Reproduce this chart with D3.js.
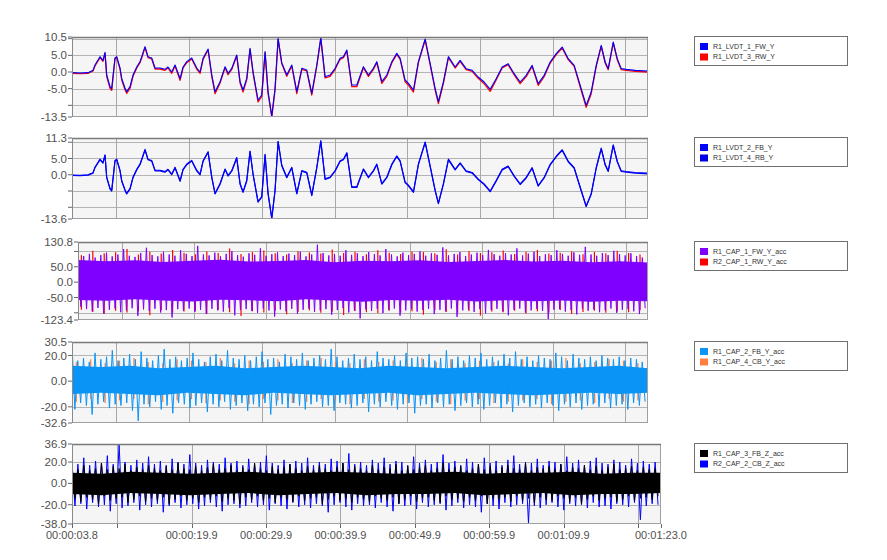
<!DOCTYPE html>
<html>
<head>
<meta charset="utf-8">
<script src="https://cdn.jsdelivr.net/npm/d3@7"></script>
<style>
  body { margin: 0; background: #fff; }
  svg { display: block; font-family: "Liberation Sans", Arial, sans-serif; }
</style>
</head>
<body>
<svg id="svg" width="887" height="560"></svg>
<script>
// ---- time axis ----
const tStart = 3.8;
const tEnd = 83.0;
const gridTimes = [9.9, 19.9, 29.9, 39.9, 49.9, 59.9, 69.9, 79.9];
const labelTimes = [3.8, 19.9, 29.9, 39.9, 49.9, 59.9, 69.9, 83.0];

// ---- displacement (LVDT) traces ----
const dispTime = [
  3.8, 4.9, 6.0, 6.69, 6.96, 7.65, 8.06, 8.34, 8.57, 9.03,
  9.26, 9.71, 9.95, 10.4, 10.64, 11.09, 11.32, 11.78, 12.19, 12.7,
  13.15, 13.39, 13.84, 14.25, 14.76, 15.22, 15.9, 16.59, 17.0, 17.51,
  17.97, 18.66, 19.07, 19.58, 20.26, 20.95, 21.41, 21.82, 22.51, 23.02,
  23.47, 24.16, 24.85, 25.26, 25.77, 26.45, 26.91, 27.32, 27.83, 28.28,
  28.7, 29.38, 29.89, 30.35, 30.76, 31.27, 31.72, 32.14, 32.64, 33.33,
  34.02, 34.71, 35.4, 36.08, 36.77, 37.46, 38.01, 38.6, 39.29, 39.98,
  40.66, 41.12, 41.59, 42.27, 42.96, 43.87, 44.56, 45.24, 45.71, 46.4,
  47.09, 47.78, 48.46, 48.92, 49.6, 50.06, 50.75, 51.43, 52.36, 53.04,
  53.73, 54.18, 54.87, 55.56, 56.48, 57.17, 57.99, 58.82, 59.65, 60.47,
  61.3, 62.12, 62.95, 63.77, 64.6, 65.42, 66.25, 67.07, 67.9, 68.72,
  69.55, 70.38, 71.2, 72.03, 72.85, 73.68, 74.5, 75.19, 75.88, 76.57,
  77.11, 77.53, 78.22, 78.77, 79.32, 80.0, 81.24, 83.0
];
const lvdt1FW = [
  -0.2, -0.3, -0.2, 0.5, 2.1, 4.6, 3.5, 5.9, -0.9, -4.4,
  -5.0, 4.2, 4.6, 1.2, -2.0, -4.8, -5.9, -4.4, -0.9, 1.5,
  3.1, 4.6, 7.6, 4.6, 4.2, 1.2, 1.2, 0.8, 1.5, 0.0,
  2.1, -2.0, 1.5, 3.1, 4.2, 1.2, 0.0, 4.1, 6.9, -0.9,
  -5.9, -2.9, 1.6, -0.4, 1.1, 5.1, -2.9, -5.4, -1.9, 7.1,
  0.0, -8.4, -6.9, 6.1, -5.9, -13.2, -4.9, 10.1, 2.8, -0.9,
  2.1, -5.9, 1.1, 0.6, -6.4, 2.1, 10.3, -1.4, -0.9, 1.1,
  4.1, 4.6, 6.6, -3.9, -3.9, 1.6, -0.9, 1.1, 3.1, -2.9,
  -0.9, 3.1, 5.6, 4.1, -2.4, -3.4, -5.4, 3.1, 9.9, 2.6,
  -4.9, -8.9, -2.9, 4.6, 1.5, 3.5, 1.0, 0.5, -1.5, -3.0,
  -5.2, -2.0, 1.5, 2.5, -0.5, -3.0, -1.0, 2.0, -3.5, -1.0,
  3.0, 5.5, 7.5, 4.0, 2.0, -4.0, -10.0, -6.0, 2.0, 8.0,
  3.0, 1.0, 9.0, 4.0, 1.0, 0.8, 0.5, 0.3
];
const lvdt3RW = [
  -0.4, -0.5, -0.4, 0.3, 1.8, 4.3, 3.2, 5.6, -1.3, -4.9,
  -5.5, 3.9, 4.3, 0.9, -2.4, -5.3, -6.4, -4.9, -1.3, 1.2,
  2.8, 4.3, 7.3, 4.3, 3.9, 0.9, 0.9, 0.5, 1.2, -0.4,
  1.8, -2.5, 1.2, 2.8, 3.9, 0.9, -0.4, 3.8, 6.6, -1.3,
  -6.5, -3.3, 1.3, -0.8, 0.8, 4.8, -3.3, -6.0, -2.3, 6.8,
  -0.4, -9.0, -7.4, 5.8, -6.4, -13.5, -5.4, 9.8, 2.5, -1.3,
  1.8, -6.5, 0.8, 0.3, -6.9, 1.8, 10.0, -1.8, -1.3, 0.8,
  3.8, 4.3, 6.3, -4.4, -4.4, 1.3, -1.3, 0.8, 2.8, -3.4,
  -1.3, 2.8, 5.3, 3.8, -2.9, -3.9, -6.0, 2.8, 9.6, 2.3,
  -5.4, -9.5, -3.4, 4.3, 1.2, 3.2, 0.7, 0.2, -1.9, -3.5,
  -5.8, -2.4, 1.2, 2.2, -0.9, -3.5, -1.4, 1.7, -4.0, -1.4,
  2.7, 5.2, 7.2, 3.7, 1.7, -4.5, -10.6, -6.5, 1.7, 7.7,
  2.7, 0.7, 8.7, 3.7, 0.7, 0.5, 0.2, 0.0
];
const lvdt2FB = [
  -0.1, -0.2, 0.0, 0.6, 2.3, 4.8, 3.7, 6.1, -0.7, -4.2,
  -4.8, 4.4, 4.8, 1.4, -1.8, -4.6, -5.7, -4.2, -0.7, 1.7,
  3.3, 4.8, 7.8, 4.8, 4.4, 1.4, 1.4, 1.0, 1.7, 0.2,
  2.3, -1.8, 1.7, 3.3, 4.4, 1.4, 0.2, 4.3, 7.1, -0.7,
  -5.7, -2.7, 1.8, -0.2, 1.3, 5.3, -2.7, -5.2, -1.7, 7.3,
  0.2, -8.2, -6.7, 6.3, -5.7, -13.3, -4.7, 10.3, 3.0, -0.7,
  2.3, -5.7, 1.3, 0.8, -6.2, 2.3, 10.5, -1.2, -0.7, 1.3,
  4.3, 4.8, 6.8, -3.7, -3.7, 1.8, -0.7, 1.3, 3.3, -2.7,
  -0.7, 3.3, 5.8, 4.3, -2.2, -3.2, -5.2, 3.3, 10.1, 2.8,
  -4.7, -8.7, -2.7, 4.8, 1.7, 3.7, 1.2, 0.7, -1.3, -2.8,
  -5.0, -1.8, 1.7, 2.7, -0.3, -2.8, -0.8, 2.2, -3.3, -0.8,
  3.2, 5.7, 7.7, 4.2, 2.2, -3.8, -9.6, -5.8, 2.2, 8.2,
  3.2, 1.2, 9.2, 4.2, 1.2, 1.0, 0.7, 0.5
];
const lvdt4RB = [
  -0.2, -0.3, -0.1, 0.5, 2.2, 4.6, 3.6, 6.0, -0.9, -4.4,
  -5.0, 4.2, 4.6, 1.2, -2.0, -4.8, -5.9, -4.4, -0.9, 1.5,
  3.1, 4.6, 7.6, 4.6, 4.2, 1.2, 1.2, 0.8, 1.5, 0.0,
  2.1, -2.0, 1.5, 3.1, 4.2, 1.2, 0.0, 4.1, 6.9, -0.9,
  -5.9, -2.9, 1.6, -0.4, 1.1, 5.1, -2.9, -5.4, -1.9, 7.1,
  0.0, -8.4, -6.9, 6.1, -5.9, -13.5, -4.9, 10.1, 2.8, -0.9,
  2.1, -5.9, 1.1, 0.6, -6.4, 2.1, 10.3, -1.4, -0.9, 1.1,
  4.1, 4.6, 6.6, -3.9, -3.9, 1.6, -0.9, 1.1, 3.1, -2.9,
  -0.9, 3.1, 5.6, 4.1, -2.4, -3.4, -5.4, 3.1, 9.9, 2.6,
  -4.9, -8.9, -2.9, 4.6, 1.5, 3.5, 1.0, 0.5, -1.5, -3.0,
  -5.2, -2.0, 1.5, 2.5, -0.5, -3.0, -1.0, 2.0, -3.5, -1.0,
  3.0, 5.5, 7.5, 4.0, 2.0, -4.0, -9.8, -6.0, 2.0, 8.0,
  3.0, 1.0, 9.0, 4.0, 1.0, 0.8, 0.5, 0.3
];

// ---- acceleration traces: per-bin peak (hi) and trough (lo), even bins over the run ----
const cap1FWHi = [
  78, 85, 92, 80, 88, 96, 84, 90, 108, 86, 82, 95, 112, 88, 84, 99, 90, 86, 104, 92,
  85, 118, 90, 87, 96, 84, 92, 101, 88, 83, 94, 89, 110, 86, 91, 97, 85, 93, 88, 99,
  84, 90, 122, 95, 87, 92, 86, 104, 89, 94, 85, 98, 91, 87, 108, 90, 84, 96, 88, 92,
  100, 86, 94, 89, 113, 87, 92, 98, 85, 90, 96, 88, 105, 91, 86, 94, 90, 110, 87, 93,
  99, 85, 91, 88, 104, 92, 86, 97, 89, 115, 90, 86, 95, 88, 102, 91, 87, 94, 85, 80
];
const cap1FWLo = [
  -80, -88, -95, -84, -102, -90, -86, -98, -92, -85, -110, -89, -94, -87, -99, -91, -115, -88, -93, -86,
  -97, -90, -104, -87, -92, -96, -85, -108, -91, -88, -94, -100, -86, -92, -112, -89, -95, -87, -103, -90,
  -86, -97, -92, -88, -106, -91, -85, -99, -93, -118, -89, -94, -87, -101, -90, -86, -109, -92, -88, -96,
  -91, -87, -104, -90, -95, -86, -113, -92, -89, -97, -88, -102, -91, -87, -95, -108, -90, -86, -99, -92,
  -87, -94, -121, -90, -88, -96, -91, -105, -87, -93, -89, -98, -92, -86, -100, -90, -88, -95, -104, -85
];
const cap1FWBandUp = [72, 68, 71, 66, 70, 73, 67, 69, 72, 65, 70, 68, 71, 66, 69, 72, 67, 70, 65, 68, 64];
const cap1FWBandLo = [-58, -61, -56, -60, -63, -57, -59, -62, -56, -60, -64, -58, -61, -57, -63, -59, -62, -60, -64, -61, -62];
const cap1RWHi = [
  88, 102, 94, 97, 108, 90, 99, 93, 105, 96, 91, 100, 95, 110, 92, 98, 103, 94, 90, 101,
  97, 93, 106, 95, 99, 91, 104, 96, 92, 100, 98, 94, 107, 90, 101, 95, 97, 103, 92, 99,
  105, 93, 96, 100, 91, 98, 94, 102, 95, 90
];
const cap1RWLo = [
  -90, -97, -104, -93, -99, -95, -108, -92, -100, -96, -94, -103, -91, -98, -110, -95, -99, -93, -105, -97,
  -92, -100, -96, -107, -94, -98, -101, -93, -99, -95, -106, -92, -97, -100, -94, -109, -96, -98, -93, -102,
  -95, -99, -91, -104, -97, -93, -100, -96, -98, -92
];

const cap2FBHi = [
  29, 16, 18, 15, 22, 17, 19, 24, 16, 18, 21, 17, 23, 18, 16, 20, 25, 17, 19, 16,
  18, 22, 17, 15, 19, 21, 16, 24, 18, 17, 20, 16, 19, 23, 17, 18, 15, 21, 19, 17,
  22, 16, 18, 20, 17, 25, 19, 16, 18, 21, 17, 19, 16, 23, 18, 17, 20, 16, 22, 18,
  19, 17, 21, 16, 18, 24, 17, 19, 16, 20, 18, 22, 17, 19, 16, 21, 18, 23, 17, 19,
  16, 20, 18, 17, 22, 19, 16, 21, 18, 17, 19, 16, 20, 18, 17, 19, 16, 18, 17, 15
];
const cap2FBLo = [
  -22, -17, -19, -26, -18, -16, -21, -18, -19, -17, -23, -31, -18, -20, -16, -22, -19, -25, -17, -18,
  -21, -19, -17, -24, -18, -20, -16, -22, -19, -17, -23, -18, -20, -17, -26, -19, -18, -21, -17, -19,
  -22, -18, -16, -20, -19, -23, -17, -18, -21, -19, -17, -24, -18, -20, -16, -19, -22, -18, -17, -25,
  -19, -18, -21, -17, -20, -18, -23, -19, -17, -20, -18, -22, -19, -17, -21, -18, -24, -19, -17, -20,
  -18, -21, -17, -19, -23, -18, -20, -17, -22, -19, -18, -20, -17, -21, -19, -18, -22, -17, -19, -16
];
const cap2FBBandUp = [12, 11, 12, 10, 11, 12, 10, 11, 12, 11, 10, 12, 11, 10, 11, 12, 11, 10, 11, 12, 10];
const cap2FBBandLo = [-10, -9, -10, -11, -9, -10, -11, -9, -10, -11, -10, -9, -11, -10, -9, -10, -11, -10, -9, -10, -9];
const cap4CBHi = [
  15, 17, 14, 16, 18, 15, 14, 17, 16, 15, 18, 14, 16, 15, 17, 14, 16, 18, 15, 14,
  17, 15, 16, 14, 18, 15, 17, 14, 16, 15, 14, 17, 15, 16, 18, 14, 15, 17, 16, 14
];
const cap4CBLo = [
  -16, -14, -17, -15, -14, -18, -16, -15, -14, -17, -15, -16, -18, -14, -15, -17, -16, -14, -15, -18,
  -14, -16, -15, -17, -14, -16, -18, -15, -14, -17, -16, -15, -14, -18, -16, -15, -17, -14, -16, -15
];

const cap3FBZHi = [
  15, 13, 17, 12, 14, 19, 13, 16, 14, 18, 12, 15, 13, 17, 14, 12, 16, 13, 19, 14,
  13, 16, 12, 15, 18, 13, 14, 17, 12, 15, 13, 19, 14, 12, 16, 13, 15, 18, 14, 12,
  16, 13, 17, 14, 12, 15, 19, 13, 16, 14, 12, 17, 13, 15, 14, 18, 12, 16, 13, 15,
  17, 12, 14, 19, 13, 15, 16, 12, 14, 18, 13, 16, 12, 15, 17, 14, 13, 19, 12, 15,
  14, 16, 13, 18, 12, 15, 14, 17, 13, 16, 12, 15, 18, 13, 14, 16, 12, 15, 13, 14
];
const cap3FBZLo = [
  -14, -17, -13, -15, -19, -12, -16, -14, -13, -18, -15, -12, -17, -14, -16, -13, -19, -15, -12, -16,
  -14, -18, -13, -15, -12, -17, -14, -16, -19, -13, -15, -12, -16, -14, -18, -13, -15, -17, -12, -16,
  -14, -13, -19, -15, -12, -16, -14, -18, -13, -15, -17, -12, -14, -16, -13, -19, -15, -12, -17, -14,
  -13, -16, -18, -12, -15, -14, -17, -13, -16, -12, -19, -14, -15, -13, -17, -12, -16, -14, -18, -13,
  -15, -16, -12, -14, -17, -13, -19, -15, -12, -16, -14, -13, -17, -15, -12, -16, -14, -13, -15, -12
];
const cap3FBZBandUp = [10, 9, 11, 10, 9, 10, 11, 9, 10, 11, 10, 9, 10, 11, 9, 10, 10, 11, 9, 10, 10];
const cap3FBZBandLo = [-10, -11, -9, -10, -11, -10, -9, -11, -10, -9, -11, -10, -10, -9, -11, -10, -9, -11, -10, -10, -9];
const cap2CBZHi = [
  20, 18, 24, 17, 21, 19, 26, 18, 36, 20, 17, 22, 19, 25, 18, 21, 17, 23, 20, 18,
  27, 19, 17, 22, 20, 18, 24, 19, 21, 17, 23, 18, 20, 26, 19, 17, 22, 18, 21, 19,
  24, 17, 20, 18, 23, 21, 19, 28, 18, 20, 17, 22, 19, 24, 18, 21, 20, 17, 25, 19,
  22, 18, 20, 27, 19, 21, 17, 23, 20, 18, 24, 19, 21, 17, 22, 26, 18, 20, 19, 23,
  17, 21, 20, 18, 25, 19, 22, 17, 21, 24, 19, 18, 22, 20, 17, 23, 19, 21, 18, 20
];
const cap2CBZLo = [
  -21, -19, -24, -18, -22, -20, -26, -19, -23, -21, -18, -25, -20, -22, -19, -27, -21, -18, -23, -20,
  -19, -24, -21, -18, -22, -26, -20, -19, -23, -21, -18, -22, -20, -25, -19, -21, -24, -18, -22, -20,
  -23, -19, -21, -27, -20, -18, -22, -25, -19, -21, -20, -23, -18, -22, -26, -19, -21, -20, -24, -18,
  -22, -20, -19, -25, -21, -18, -23, -20, -22, -27, -19, -21, -24, -18, -22, -20, -19, -37, -21, -23,
  -20, -18, -22, -25, -19, -21, -20, -23, -18, -22, -21, -24, -19, -20, -22, -18, -34, -21, -19, -20
];

// ---- legends ----
const legendNames = [
  ["R1_LVDT_1_FW_Y", "R1_LVDT_3_RW_Y"],
  ["R1_LVDT_2_FB_Y", "R1_LVDT_4_RB_Y"],
  ["R1_CAP_1_FW_Y_acc", "R2_CAP_1_RW_Y_acc"],
  ["R1_CAP_2_FB_Y_acc", "R1_CAP_4_CB_Y_acc"],
  ["R1_CAP_3_FB_Z_acc", "R2_CAP_2_CB_Z_acc"]
];
const legendColors = [
  ["#0000ff", "#ff0000"],
  ["#0000ff", "#0000e6"],
  ["#8000ff", "#ff0000"],
  ["#0a94f5", "#ff7f40"],
  ["#000000", "#0000ff"]
];

const svg = d3.select("#svg");

function fmtTime(t) {
  const m = Math.floor(t / 60);
  const s = t - m * 60;
  return "00:" + String(m).padStart(2, "0") + ":" + s.toFixed(1).padStart(4, "0");
}

// even bins helper: time of bin i (with offset inside the bin)
function binTime(n, i, off) {
  return tStart + (i + off) * (tEnd - tStart) / n;
}

function drawLine(g, x, y, times, values, color, w) {
  g.append("path")
    .datum(values)
    .attr("fill", "none")
    .attr("stroke", color)
    .attr("stroke-width", w)
    .attr("stroke-linejoin", "round")
    .attr("d", d3.line().x((d, i) => x(times[i])).y(d => y(d)));
}

function drawBand(g, x, y, up, lo, color) {
  const n = up.length - 1;
  g.append("path")
    .datum(up)
    .attr("fill", color)
    .attr("d", d3.area()
      .x((d, i) => x(tStart + i * (tEnd - tStart) / n))
      .y0((d, i) => y(lo[i]))
      .y1(d => y(d)));
}

function drawZigzag(g, x, y, hi, lo, color, w) {
  const n = hi.length;
  const pts = [];
  hi.forEach((h, i) => {
    pts.push([binTime(n, i, 0), h]);
    pts.push([binTime(n, i, 0.5), lo[i]]);
  });
  g.append("path")
    .datum(pts)
    .attr("fill", "none")
    .attr("stroke", color)
    .attr("stroke-width", w)
    .attr("d", d3.line().x(d => x(d[0])).y(d => y(d[1])));
}

function drawSpikes(g, x, y, hi, lo, color) {
  const n = hi.length;
  g.selectAll(null)
    .data(hi)
    .enter()
    .append("line")
    .attr("x1", (d, i) => x(binTime(n, i, 0.3)))
    .attr("x2", (d, i) => x(binTime(n, i, 0.3)))
    .attr("y1", d => y(d))
    .attr("y2", (d, i) => y(lo[i]))
    .attr("stroke", color)
    .attr("stroke-width", 1.2);
}

const panels = [
  { top: 37, bottom: 117, left: 72, right: 648, domain: [-13.5, 10.5],
    grid: [10, 5, 0, -5, -10], labels: [5, 0, -5],
    draw: (g, x, y) => {
      drawLine(g, x, y, dispTime, lvdt3RW, legendColors[0][1], 1.3);
      drawLine(g, x, y, dispTime, lvdt1FW, legendColors[0][0], 1.1);
    } },
  { top: 138, bottom: 219, left: 72, right: 648, domain: [-13.6, 11.3],
    grid: [10, 5, 0, -5, -10], labels: [5, 0],
    draw: (g, x, y) => {
      drawLine(g, x, y, dispTime, lvdt4RB, legendColors[1][1], 1.2);
      drawLine(g, x, y, dispTime, lvdt2FB, legendColors[1][0], 1.1);
    } },
  { top: 242, bottom: 320, left: 78, right: 648, domain: [-123.4, 130.8],
    grid: [100, 50, 0, -50, -100], labels: [50, 0, -50],
    draw: (g, x, y) => {
      drawSpikes(g, x, y, cap1RWHi, cap1RWLo, legendColors[2][1]);
      drawBand(g, x, y, cap1FWBandUp, cap1FWBandLo, legendColors[2][0]);
      drawZigzag(g, x, y, cap1FWHi, cap1FWLo, legendColors[2][0], 1);
    } },
  { top: 342, bottom: 423, left: 72, right: 648, domain: [-32.6, 30.5],
    grid: [20, 0, -20], labels: [20, 0, -20],
    draw: (g, x, y) => {
      drawSpikes(g, x, y, cap4CBHi, cap4CBLo, legendColors[3][1]);
      drawBand(g, x, y, cap2FBBandUp, cap2FBBandLo, legendColors[3][0]);
      drawZigzag(g, x, y, cap2FBHi, cap2FBLo, legendColors[3][0], 1);
    } },
  { top: 444, bottom: 524, left: 72, right: 661, domain: [-38.0, 36.9],
    grid: [20, 0, -20], labels: [20, 0, -20],
    draw: (g, x, y) => {
      drawZigzag(g, x, y, cap2CBZHi, cap2CBZLo, legendColors[4][1], 1);
      drawBand(g, x, y, cap3FBZBandUp, cap3FBZBandLo, legendColors[4][0]);
      drawZigzag(g, x, y, cap3FBZHi, cap3FBZLo, legendColors[4][0], 1);
    } }
];

panels.forEach((p, k) => {
  const x = d3.scaleLinear().domain([tStart, tEnd]).range([p.left, p.right]);
  const y = d3.scaleLinear().domain(p.domain).range([p.bottom, p.top]);
  const g = svg.append("g");

  g.append("rect")
    .attr("x", p.left).attr("y", p.top)
    .attr("width", p.right - p.left).attr("height", p.bottom - p.top)
    .attr("fill", "#f5f5f5");

  // grid
  g.selectAll(null).data(p.grid).enter().append("line")
    .attr("x1", p.left).attr("x2", p.right)
    .attr("y1", d => Math.round(y(d)) + 0.5).attr("y2", d => Math.round(y(d)) + 0.5)
    .attr("stroke", "#b4b4b4");
  g.selectAll(null).data(gridTimes).enter().append("line")
    .attr("x1", d => Math.round(x(d)) + 0.5).attr("x2", d => Math.round(x(d)) + 0.5)
    .attr("y1", p.top).attr("y2", p.bottom)
    .attr("stroke", "#a8a8a8");

  // traces
  const clipId = "clip" + k;
  g.append("clipPath").attr("id", clipId).append("rect")
    .attr("x", p.left).attr("y", p.top)
    .attr("width", p.right - p.left).attr("height", p.bottom - p.top);
  const dg = g.append("g").attr("clip-path", `url(#${clipId})`);
  p.draw(dg, x, y);

  // frame
  g.append("rect")
    .attr("x", p.left + 0.5).attr("y", p.top + 0.5)
    .attr("width", p.right - p.left - 1).attr("height", p.bottom - p.top - 1)
    .attr("fill", "none").attr("stroke", "#a0a0a0");
  g.append("line")
    .attr("x1", p.left).attr("x2", p.right)
    .attr("y1", p.top + 0.5).attr("y2", p.top + 0.5)
    .attr("stroke", "#7a7a7a").attr("stroke-width", 1.6);
  g.append("line")
    .attr("x1", p.left + 0.5).attr("x2", p.left + 0.5)
    .attr("y1", p.top).attr("y2", p.bottom)
    .attr("stroke", "#8a8a8a");

  // y ticks and labels
  const tickVals = [p.domain[1]].concat(p.grid, [p.domain[0]]);
  g.selectAll(null).data(tickVals).enter().append("line")
    .attr("x1", p.left - 4).attr("x2", p.left)
    .attr("y1", d => y(d)).attr("y2", d => y(d))
    .attr("stroke", "#666");
  const labelVals = [p.domain[1]].concat(p.labels, [p.domain[0]]);
  g.selectAll(null).data(labelVals).enter().append("text")
    .attr("x", p.left - 5)
    .attr("y", d => y(d))
    .attr("dy", "0.35em")
    .attr("text-anchor", "end")
    .attr("font-size", 11.5)
    .attr("fill", "#505050")
    .text(d => d.toFixed(1));

  // legend
  const lg = svg.append("g").attr("transform", `translate(694,${p.top - 1})`);
  lg.append("rect")
    .attr("x", 0.5).attr("y", 0.5).attr("width", 153).attr("height", 29)
    .attr("fill", "#fff").attr("stroke", "#707070");
  legendNames[k].forEach((name, j) => {
    lg.append("rect")
      .attr("x", 6).attr("y", 7 + j * 10.5).attr("width", 8).attr("height", 7)
      .attr("fill", legendColors[k][j]);
    lg.append("text")
      .attr("x", 19).attr("y", 10.5 + j * 10.5)
      .attr("dy", "0.35em")
      .attr("font-size", 7)
      .attr("fill", "#333")
      .text(name);
  });

  // time axis only under the last panel
  if (k === panels.length - 1) {
    const ax = g.append("g");
    ax.selectAll(null).data([tStart].concat(gridTimes, [tEnd])).enter().append("line")
      .attr("x1", d => Math.round(x(d)) + 0.5).attr("x2", d => Math.round(x(d)) + 0.5)
      .attr("y1", p.bottom).attr("y2", p.bottom + 4)
      .attr("stroke", "#666");
    ax.selectAll(null).data(labelTimes).enter().append("text")
      .attr("x", d => x(d))
      .attr("y", p.bottom + 15)
      .attr("text-anchor", "middle")
      .attr("font-size", 11)
      .attr("fill", "#505050")
      .text(d => fmtTime(d));
  }
});
</script>
</body>
</html>
